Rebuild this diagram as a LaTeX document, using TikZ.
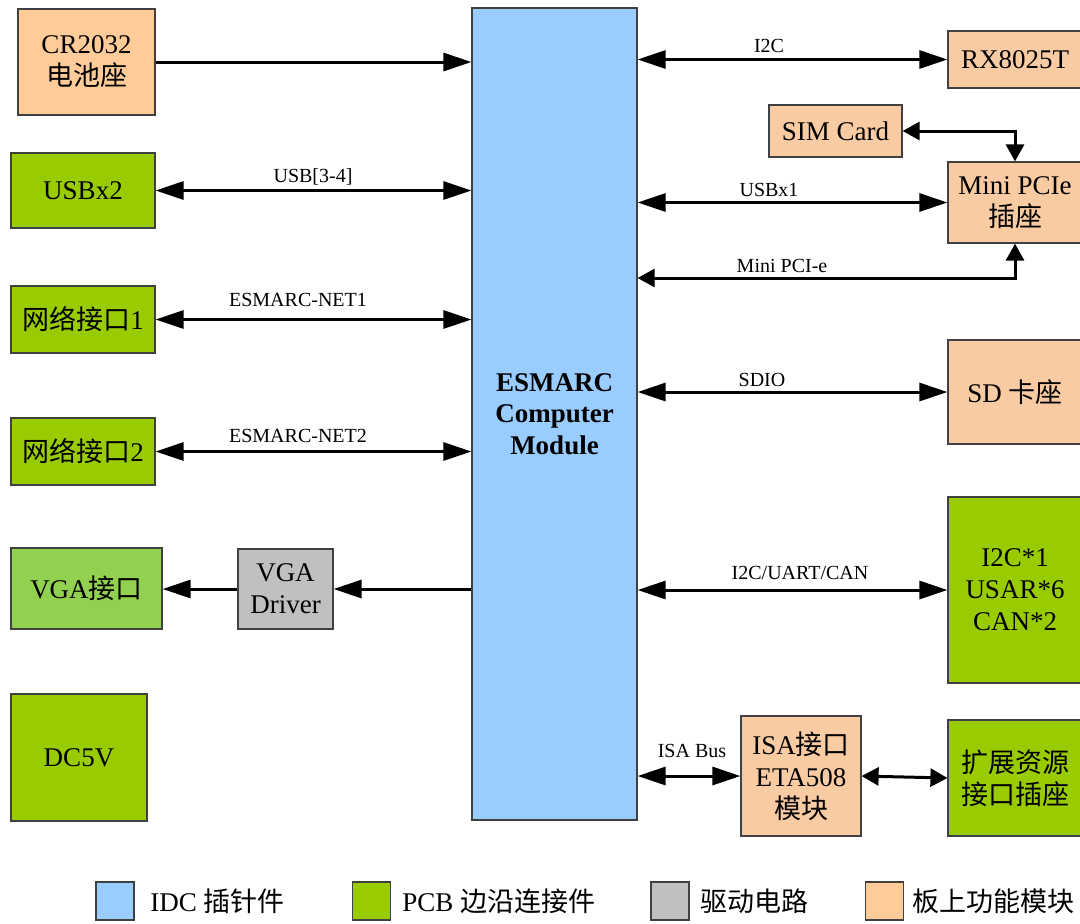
\documentclass[tikz,border=0pt]{standalone}
\usepackage{fontspec}
\setmainfont{Liberation Serif}
\newfontfamily\cjk{Noto Sans CJK SC}
\newcommand{\zh}[1]{{\cjk #1}}
\usetikzlibrary{arrows.meta}
\definecolor{cblue}{HTML}{99CCFF}
\definecolor{cgreen}{HTML}{99CC00}
\definecolor{clgreen}{HTML}{92D050}
\definecolor{cgray}{HTML}{C0C0C0}
\definecolor{cpeach}{HTML}{FFCC99}
\definecolor{cpeachb}{HTML}{F9CBA2}
\definecolor{cborder}{HTML}{404040}
\tikzset{
  BT/.tip={Triangle[length=14pt,width=9pt]},
  ST/.tip={Triangle[length=8.5pt,width=9pt]},
}
\begin{document}
\begin{tikzpicture}[x=0.5pt,y=-0.5pt,
  box/.style={draw=cborder, line width=0.6pt, align=center, inner sep=0pt,
    font=\fontsize{13.5}{16}\selectfont},
  lbl/.style={inner sep=0pt, font=\fontsize{10}{12}\selectfont},
  conn/.style={line width=1.5pt, draw=black},
  legbox/.style={draw=cborder, line width=0.6pt, minimum width=19pt, minimum height=19pt, inner sep=0pt},
  legtext/.style={anchor=west, inner sep=0pt, font=\fontsize{13.5}{16}\selectfont},
]
\useasboundingbox (0,0) rectangle (1080,923);

% central module
\node[box, fill=cblue, minimum width=82.5pt, minimum height=406pt,
  font=\bfseries\fontsize{13.5}{15.75}\selectfont] (esm) at (554.5,414) {ESMARC\\Computer\\Module};

% left column
\node[box, fill=cpeach, minimum width=68.5pt, minimum height=53pt] (cr) at (86.5,62) {CR2032\\\zh{电池座}};
\node[box, fill=cgreen, minimum width=72pt, minimum height=37.5pt] (usb) at (83,190.5) {USBx2};
\node[box, fill=cgreen, minimum width=72pt, minimum height=33.5pt] (net1) at (83,319.5) {\zh{网络接口}1};
\node[box, fill=cgreen, minimum width=72pt, minimum height=33.5pt] (net2) at (83,451.5) {\zh{网络接口}2};
\node[box, fill=clgreen, minimum width=75.5pt, minimum height=40.5pt] (vga) at (86.5,588.5) {VGA\zh{接口}};
\node[box, fill=cgray, minimum width=47.5pt, minimum height=40pt] (drv) at (285.5,589) {VGA\\Driver};
\node[box, fill=cgreen, minimum width=68pt, minimum height=63.5pt] (dc) at (79,757.5) {DC5V};

% right column
\node[box, fill=cpeachb, minimum width=67pt, minimum height=28.5pt] (rx) at (1015,59.5) {RX8025T};
\node[box, fill=cpeachb, minimum width=66.5pt, minimum height=26pt] (sim) at (835.5,131) {SIM Card};
\node[box, fill=cpeachb, minimum width=67pt, minimum height=40.5pt] (mini) at (1015,202.5) {Mini PCIe\\\zh{插座}};
\node[box, fill=cpeachb, minimum width=67pt, minimum height=52pt] (sd) at (1015,392) {SD \zh{卡座}};
\node[box, fill=cgreen, minimum width=67pt, minimum height=93pt] (io) at (1015,590) {I2C*1\\USAR*6\\CAN*2};
\node[box, fill=cpeachb, minimum width=60pt, minimum height=60pt] (isa) at (801,776) {ISA\zh{接口}\\ETA508\\\zh{模块}};
\node[box, fill=cgreen, minimum width=67pt, minimum height=58pt] (ext) at (1015,778) {\zh{扩展资源}\\\zh{接口插座}};

% connectors left
\draw[conn, -{BT}] (cr.east) -- (esm.west |- cr.east);
\draw[conn, {BT}-{BT}] (usb.east) -- (esm.west |- usb.east);
\draw[conn, {BT}-{BT}] (net1.east) -- (esm.west |- net1.east);
\draw[conn, {BT}-{BT}] (net2.east) -- (esm.west |- net2.east);
\draw[conn, -{BT}] (esm.west |- drv.east) -- (drv.east);
\draw[conn, -{BT}] (drv.west) -- (vga.east |- drv.west);

% connectors right
\draw[conn, {BT}-{BT}] (esm.east |- rx.west) -- (rx.west);
\draw[conn, {ST}-{ST}] (sim.east) -| (mini.north);
\draw[conn, {BT}-{BT}] (esm.east |- mini.west) -- (mini.west);
\coordinate (mpc) at (1015,278);
\draw[conn, {ST}-{ST}] (esm.east |- mpc) -- (mpc) -- (mini.south);
\draw[conn, {BT}-{BT}] (esm.east |- sd.west) -- (sd.west);
\draw[conn, {BT}-{BT}] (esm.east |- io.west) -- (io.west);
\draw[conn, {BT}-{BT}] (esm.east |- isa.west) -- (isa.west);
\draw[conn, {ST}-{ST}] (isa.east) -- (ext.west);

% labels
\node[lbl] (l1) at (769,46) {I2C};
\node[lbl] (l2) at (313,177) {USB[3-4]};
\node[lbl] (l3) at (769,190) {USBx1};
\node[lbl] (l4) at (298,300) {ESMARC-NET1};
\node[lbl] (l5) at (782,266) {Mini PCI-e};
\node[lbl] (l6) at (762,380) {SDIO};
\node[lbl] (l7) at (298,436) {ESMARC-NET2};
\node[lbl] (l8) at (800,573) {I2C/UART/CAN};
\node[lbl] (l9) at (692,751) {ISA Bus};

% legend
\node[legbox, fill=cblue] (g1) at (115,901) {};
\node[legtext] (t1) at (150,901) {IDC \zh{插针件}};
\node[legbox, fill=cgreen] (g2) at (371.5,901) {};
\node[legtext] (t2) at (402,901) {PCB \zh{边沿连接件}};
\node[legbox, fill=cgray] (g3) at (670,901) {};
\node[legtext] (t3) at (700,901) {\zh{驱动电路}};
\node[legbox, fill=cpeach] (g4) at (884.5,901) {};
\node[legtext] (t4) at (912,901) {\zh{板上功能模块}};
\end{tikzpicture}
\end{document}
